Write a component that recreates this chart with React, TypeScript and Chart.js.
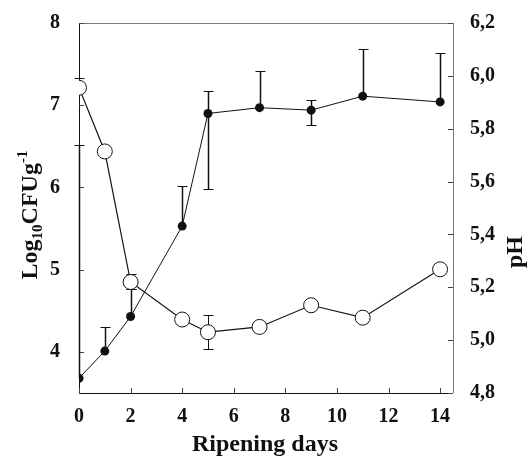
import React, { useEffect, useRef } from "react";
import { Chart, registerables } from "chart.js";

Chart.register(...registerables);

const days = [0, 1, 2, 4, 5, 7, 9, 11, 14];
const cfu = [3.68, 4.01, 4.43, 5.53, 6.9, 6.97, 6.94, 7.11, 7.04];
const cfuUpper = [6.52, 4.3, 4.77, 6.02, 7.17, 7.42, 7.06, 7.68, 7.63];
const cfuLower: (number | null)[] = [null, null, null, null, 5.98, null, 6.76, null, null];
const ph = [5.955, 5.714, 5.22, 5.078, 5.03, 5.05, 5.132, 5.085, 5.268];
const phUpper: (number | null)[] = [5.993, null, 5.252, null, 5.095, null, null, null, null];
const phLower: (number | null)[] = [null, null, 5.195, null, 4.967, null, null, null, null];

const xTicks = [0, 2, 4, 6, 8, 10, 12, 14];
const yTicks = [4, 5, 6, 7, 8];
const y1Ticks = [4.8, 5.0, 5.2, 5.4, 5.6, 5.8, 6.0, 6.2];

const FONT = "'Liberation Serif', 'Times New Roman', serif";
const INK = "#111111";

const overlay = {
  id: "overlay",
  beforeDatasetsDraw(chart: any) {
    const ctx = chart.ctx;
    const xs = chart.scales.x;
    const ys = chart.scales.y;
    const y1 = chart.scales.y1;
    const ca = chart.chartArea;
    ctx.save();
    // frame
    ctx.lineWidth = 1;
    ctx.strokeStyle = "#7a7a7a";
    ctx.beginPath();
    ctx.moveTo(ca.left, ca.top + 0.5);
    ctx.lineTo(ca.right, ca.top + 0.5);
    ctx.moveTo(ca.right + 0.5, ca.top);
    ctx.lineTo(ca.right + 0.5, ca.bottom);
    ctx.stroke();
    ctx.strokeStyle = INK;
    ctx.beginPath();
    ctx.moveTo(ca.left + 0.5, ca.top);
    ctx.lineTo(ca.left + 0.5, ca.bottom + 0.5);
    ctx.lineTo(ca.right, ca.bottom + 0.5);
    ctx.stroke();
    // inner ticks
    ctx.strokeStyle = "#444";
    ctx.beginPath();
    xTicks.forEach((v) => {
      const px = Math.round(xs.getPixelForValue(v)) + 0.5;
      ctx.moveTo(px, ca.bottom);
      ctx.lineTo(px, ca.bottom - 5);
    });
    yTicks.forEach((v) => {
      const py = Math.round(ys.getPixelForValue(v)) + 0.5;
      ctx.moveTo(ca.left, py);
      ctx.lineTo(ca.left + 5, py);
    });
    y1Ticks.forEach((v) => {
      const py = Math.round(y1.getPixelForValue(v)) + 0.5;
      ctx.moveTo(ca.right, py);
      ctx.lineTo(ca.right - 5, py);
    });
    ctx.stroke();
    // error bars
    const bar = (scale: any, x: number, v: number, e: number | null, w: number) => {
      if (e === null) return;
      const px = Math.round(xs.getPixelForValue(x)) + 0.5;
      const p0 = scale.getPixelForValue(v);
      const p1 = Math.round(scale.getPixelForValue(e)) + 0.5;
      ctx.lineWidth = w;
      ctx.beginPath();
      ctx.moveTo(px, p0);
      ctx.lineTo(px, p1);
      ctx.stroke();
      ctx.lineWidth = 1;
      ctx.beginPath();
      ctx.moveTo(px - 5, p1);
      ctx.lineTo(px + 5, p1);
      ctx.stroke();
    };
    ctx.strokeStyle = INK;
    days.forEach((d, i) => {
      bar(ys, d, cfu[i], cfuUpper[i], 1.5);
      bar(ys, d, cfu[i], cfuLower[i], 1.5);
      bar(y1, d, ph[i], phUpper[i], 1);
      bar(y1, d, ph[i], phLower[i], 1);
    });
    ctx.restore();
  },
  afterDraw(chart: any) {
    const ctx = chart.ctx;
    ctx.save();
    ctx.fillStyle = INK;
    ctx.textBaseline = "alphabetic";
    // x title
    ctx.font = `bold 24px ${FONT}`;
    ctx.textAlign = "center";
    ctx.fillText("Ripening days", 265, 451);
    // left title
    const parts: [string, number, number][] = [
      ["Log", 24, 0],
      ["10", 15, 5],
      ["CFUg", 24, 0],
      ["-1", 15, -10],
    ];
    let total = 0;
    parts.forEach(([t, s]) => {
      ctx.font = `bold ${s}px ${FONT}`;
      total += ctx.measureText(t).width;
    });
    ctx.save();
    ctx.translate(37, 215);
    ctx.rotate(-Math.PI / 2);
    ctx.textAlign = "left";
    let cx = -total / 2;
    parts.forEach(([t, s, dy]) => {
      ctx.font = `bold ${s}px ${FONT}`;
      ctx.fillText(t, cx, dy);
      cx += ctx.measureText(t).width;
    });
    ctx.restore();
    // right title
    ctx.save();
    ctx.translate(522, 252);
    ctx.rotate(-Math.PI / 2);
    ctx.textAlign = "center";
    ctx.font = `bold 24px ${FONT}`;
    ctx.fillText("pH", 0, 0);
    ctx.restore();
    ctx.restore();
  },
};

export default function App() {
  const ref = useRef<HTMLCanvasElement>(null);
  useEffect(() => {
    if (!ref.current) return;
    const tickFont = { family: FONT, size: 20, weight: 700 as any };
    const chart = new Chart(ref.current, {
      type: "line",
      data: {
        datasets: [
          {
            label: "pH",
            data: days.map((d, i) => ({ x: d, y: ph[i] })),
            yAxisID: "y1",
            borderColor: INK,
            borderWidth: 1.2,
            pointRadius: 7.5,
            pointBorderWidth: 1,
            pointBackgroundColor: "#ffffff",
            pointBorderColor: INK,
            tension: 0,
          },
          {
            label: "CFU",
            data: days.map((d, i) => ({ x: d, y: cfu[i] })),
            yAxisID: "y",
            borderColor: INK,
            borderWidth: 1,
            pointRadius: 4.5,
            pointBorderWidth: 0,
            pointBackgroundColor: INK,
            pointBorderColor: INK,
            tension: 0,
          },
        ],
      },
      options: {
        animation: false,
        responsive: false,
        layout: { padding: { top: 21, left: 0, right: 0, bottom: 0 } },
        plugins: { legend: { display: false }, tooltip: { enabled: false } },
        scales: {
          x: {
            type: "linear",
            min: 0,
            max: 14.5,
            grid: { display: false },
            border: { display: false },
            afterBuildTicks: (s: any) => {
              s.ticks = xTicks.map((v) => ({ value: v }));
            },
            afterFit: (s: any) => {
              s.height = 63;
            },
            ticks: { font: tickFont, color: INK, padding: 4, maxRotation: 0 },
          },
          y: {
            position: "left",
            min: 3.5,
            max: 8,
            grid: { display: false },
            border: { display: false },
            afterBuildTicks: (s: any) => {
              s.ticks = yTicks.map((v) => ({ value: v }));
            },
            afterFit: (s: any) => {
              s.width = 79;
            },
            ticks: { font: tickFont, color: INK, padding: 11 },
          },
          y1: {
            position: "right",
            min: 4.8,
            max: 6.2,
            grid: { display: false },
            border: { display: false },
            afterBuildTicks: (s: any) => {
              s.ticks = y1Ticks.map((v) => ({ value: v }));
            },
            afterFit: (s: any) => {
              s.width = 77;
            },
            ticks: {
              font: tickFont,
              color: INK,
              padding: 9,
              callback: (v: any) => Number(v).toFixed(1).replace(".", ","),
            },
          },
        },
      },
      plugins: [overlay],
    });
    return () => chart.destroy();
  }, []);
  return (
    <div style={{ position: "fixed", left: 0, top: 0, width: 530, height: 456, background: "#fff" }}>
      <canvas ref={ref} width={530} height={456} style={{ display: "block" }} />
    </div>
  );
}
